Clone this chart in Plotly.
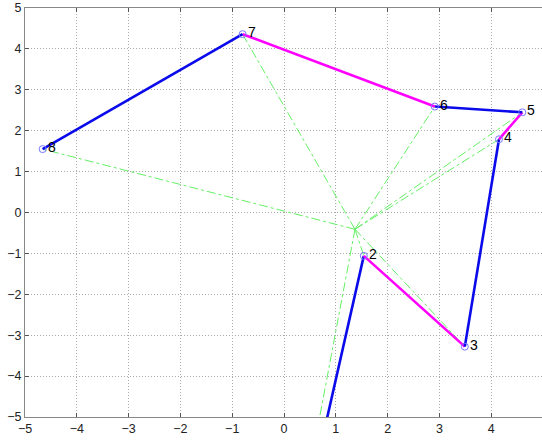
import plotly.graph_objects as go

# vertex labels and coordinates (point 1 lies below the visible area)
labels = ["1", "2", "3", "4", "5", "6", "7", "8"]
xs = [-0.04, 1.54, 3.49, 4.15, 4.60, 2.91, -0.80, -4.66]
ys = [-9.90, -1.06, -3.28, 1.79, 2.45, 2.59, 4.36, 1.55]
# interior point from which dash-dot rays go to each vertex
center_x = 1.37
center_y = -0.41

tick_vals = [-5, -4, -3, -2, -1, 0, 1, 2, 3, 4, 5]

fig = go.Figure()

# green dash-dot rays
for xv, yv in zip(xs, ys):
    fig.add_trace(go.Scatter(
        x=[center_x, xv], y=[center_y, yv], mode="lines",
        line=dict(color="rgb(100,240,100)", width=1, dash="dashdot"),
        showlegend=False, hoverinfo="skip"))

# polygon edges, alternating blue / magenta
for i in range(len(xs) - 1):
    col = "rgb(10,10,235)" if i % 2 == 0 else "rgb(255,0,255)"
    fig.add_trace(go.Scatter(
        x=[xs[i], xs[i + 1]], y=[ys[i], ys[i + 1]], mode="lines",
        line=dict(color=col, width=2.6),
        showlegend=False, hoverinfo="skip"))

# vertex markers
fig.add_trace(go.Scatter(
    x=xs, y=ys, mode="markers",
    marker=dict(symbol="circle-open", size=7, color="rgb(120,120,255)", line=dict(width=1)),
    showlegend=False, hoverinfo="skip"))

# vertex labels (only those inside the view)
for lab, xv, yv in zip(labels[1:], xs[1:], ys[1:]):
    fig.add_annotation(
        x=xv, y=yv, xref="x", yref="y", text=lab, showarrow=False,
        xanchor="center", yanchor="middle", xshift=9, yshift=2,
        font=dict(family="Liberation Sans, Arial, sans-serif", size=14, color="black"))

fig.update_layout(
    width=542, height=442,
    margin=dict(l=25, r=0, t=8, b=25),
    paper_bgcolor="white", plot_bgcolor="white",
    font=dict(family="Liberation Sans, Arial, sans-serif", size=12.5, color="#222"),
)
fig.update_xaxes(
    range=[-5, 4.98], tickvals=tick_vals, ticks="inside", ticklen=4,
    tickcolor="#555", showline=True, linecolor="#888", linewidth=1, mirror="ticks",
    showgrid=True, gridcolor="#aaa", griddash="1px,2px", gridwidth=1, zeroline=False,
)
fig.update_yaxes(
    range=[-5, 5], tickvals=tick_vals, ticks="inside", ticklen=4,
    tickcolor="#555", showline=True, linecolor="#888", linewidth=1,
    showgrid=True, gridcolor="#aaa", griddash="1px,2px", gridwidth=1, zeroline=False,
)

fig.write_html("out.html", config={"displayModeBar": False},
               post_script="document.body.style.margin='0';")
